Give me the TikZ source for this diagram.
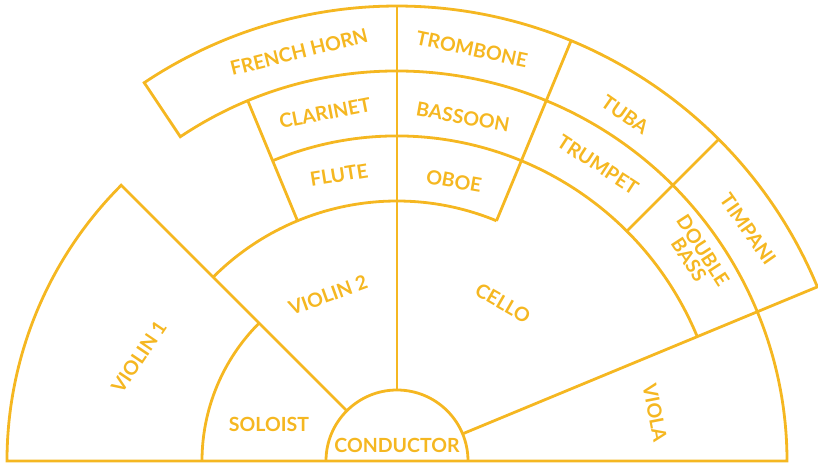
\documentclass[tikz,border=0pt]{standalone}
\usepackage{fontspec}
\setmainfont{Lato}
\definecolor{gold}{RGB}{245,183,33}
\begin{document}
\begin{tikzpicture}[x=1pt,y=1pt,
  ln/.style={draw=gold,line width=2.8pt,line join=miter},
  lbl/.style={font=\fontsize{19.5}{17}\selectfont\bfseries,text=gold,inner sep=0pt,align=center}]
\useasboundingbox (-397,-3) rectangle (421,461);
% outer boundary
\draw[ln] (22.5:71) -- (22.5:455) arc[start angle=22.5,end angle=123.75,radius=455]
  -- (123.75:390) arc[start angle=123.75,end angle=0,radius=390]
  -- (-390,0) arc[start angle=180,end angle=135,radius=390] -- (135:71);
% inner arcs
\draw[ln] (71,0) arc[start angle=0,end angle=180,radius=71];
\draw[ln] (180:195) arc[start angle=180,end angle=135,radius=195];
\draw[ln] (135:260) arc[start angle=135,end angle=67.5,radius=260];
\draw[ln] (112.5:325) arc[start angle=112.5,end angle=22.5,radius=325];
% radial dividers
\draw[ln] (45:325) -- (45:455);
\draw[ln] (67.5:260) -- (67.5:455);
\draw[ln] (90:71) -- (90:455);
\draw[ln] (112.5:260) -- (112.5:390);
% labels
\node[lbl,rotate=14]  (horn)   at (-98,409) {FRENCH HORN};
\node[lbl,rotate=-12] (tromb)  at (75,412)  {TROMBONE};
\node[lbl,rotate=11]  (clar)   at (-72,348) {CLARINET};
\node[lbl,rotate=-10] (bass)   at (66,344)  {BASSOON};
\node[lbl,rotate=9]   (flute)  at (-58,286) {FLUTE};
\node[lbl,rotate=-10] (oboe)   at (57,280)  {OBOE};
\node[lbl,rotate=-35] (tuba)   at (228,346) {TUBA};
\node[lbl,rotate=-33] (trump)  at (201,296) {TRUMPET};
\node[lbl,rotate=-55] (timp)   at (351,232) {TIMPANI};
\node[lbl,rotate=-57] (dbass)  at (299,206) {DOUBLE\\BASS};
\node[lbl,rotate=20]  (vl2)    at (-69,166) {VIOLIN 2};
\node[lbl,rotate=-30] (cello)  at (106,158) {CELLO};
\node[lbl,rotate=56]  (vl1)    at (-258,104) {VIOLIN 1};
\node[lbl,rotate=-79] (viola)  at (258,48)  {VIOLA};
\node[lbl]            (solo)   at (-128,37) {SOLOIST};
\node[lbl]            (cond)   at (0,16)    {CONDUCTOR};
\end{tikzpicture}
\end{document}
